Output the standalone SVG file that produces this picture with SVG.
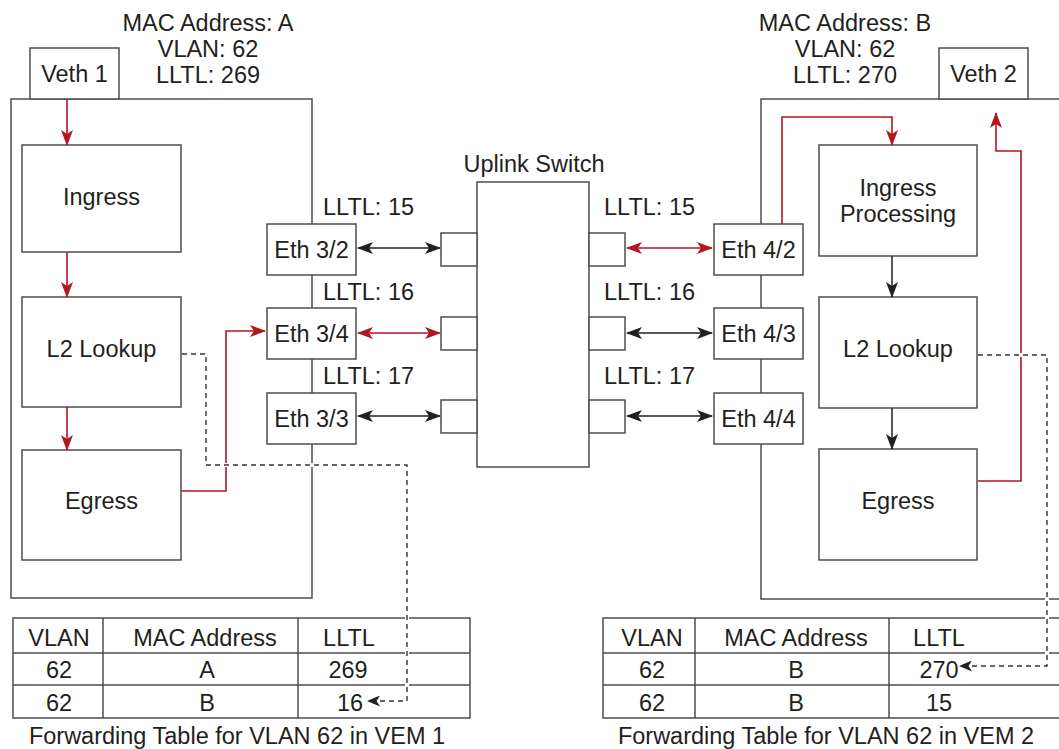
<svg xmlns="http://www.w3.org/2000/svg" width="1059" height="749" viewBox="0 0 1059 749">
<style>
.box{fill:#fff;stroke:#4d4d4d;stroke-width:1.5}
.ln{fill:none;stroke:#4d4d4d;stroke-width:1.5}
.t{font-family:"Liberation Sans",Arial,Helvetica,sans-serif;font-size:23.5px;fill:#231f20}
.m{text-anchor:middle}
.red{fill:none;stroke:#b3161d;stroke-width:1.6}
.blk{fill:none;stroke:#231f20;stroke-width:1.5}
.dash{fill:none;stroke:#333;stroke-width:1.4;stroke-dasharray:5 4}
.halo{fill:none;stroke:#fff;stroke-width:4}
</style>
<defs>
<marker id="ar" markerUnits="userSpaceOnUse" viewBox="0 0 16 12" markerWidth="16" markerHeight="12" refX="15" refY="6" orient="auto-start-reverse"><path d="M0,0 L16,6 L0,12 L4,6 z" fill="#b3161d"/></marker>
<marker id="ab" markerUnits="userSpaceOnUse" viewBox="0 0 16 12" markerWidth="16" markerHeight="12" refX="15" refY="6" orient="auto-start-reverse"><path d="M0,0 L16,6 L0,12 L4,6 z" fill="#231f20"/></marker>
<marker id="ad" markerUnits="userSpaceOnUse" viewBox="0 0 13 11" markerWidth="13" markerHeight="11" refX="12" refY="5.5" orient="auto"><path d="M0,0 L13,5.5 L0,11 L3.5,5.5 z" fill="#231f20"/></marker>
</defs>

<g id="vem1">
<rect class="box" x="11" y="99" width="301" height="499"/>
<text class="t m" x="208" y="31">MAC Address: A</text>
<text class="t m" x="208" y="57">VLAN: 62</text>
<text class="t m" x="208" y="83">LLTL: 269</text>
</g>
<g id="veth1"><rect class="box" x="30" y="48" width="89" height="51"/><text class="t m" x="74.5" y="82">Veth 1</text></g>
<g id="ingress1"><rect class="box" x="22" y="145" width="159" height="107"/><text class="t m" x="101.5" y="205">Ingress</text></g>
<g id="l2lookup1"><rect class="box" x="22" y="297" width="159" height="110"/><text class="t m" x="101.5" y="357">L2 Lookup</text></g>
<g id="egress1"><rect class="box" x="22" y="450" width="159" height="110"/><text class="t m" x="101.5" y="509">Egress</text></g>

<g id="vem2">
<rect class="box" x="761" y="99" width="330" height="500"/>
<text class="t m" x="845" y="31">MAC Address: B</text>
<text class="t m" x="845" y="57">VLAN: 62</text>
<text class="t m" x="845" y="83">LLTL: 270</text>
</g>
<g id="veth2"><rect class="box" x="939" y="48" width="89" height="51"/><text class="t m" x="983.5" y="82">Veth 2</text></g>
<g id="ingress2"><rect class="box" x="819" y="145" width="158" height="111"/><text class="t m" x="898" y="196">Ingress</text><text class="t m" x="898" y="222">Processing</text></g>
<g id="l2lookup2"><rect class="box" x="819" y="297" width="158" height="111"/><text class="t m" x="898" y="357">L2 Lookup</text></g>
<g id="egress2"><rect class="box" x="819" y="449" width="158" height="111"/><text class="t m" x="898" y="509">Egress</text></g>

<g id="uplink">
<text class="t m" x="534" y="172">Uplink Switch</text>
<rect class="box" x="477" y="182" width="112" height="285"/>
<rect class="box" x="441" y="233" width="36" height="33"/>
<rect class="box" x="441" y="317" width="36" height="33"/>
<rect class="box" x="441" y="400" width="36" height="33"/>
<rect class="box" x="589" y="233" width="36" height="33"/>
<rect class="box" x="589" y="317" width="36" height="33"/>
<rect class="box" x="589" y="400" width="36" height="33"/>
</g>

<g id="lltl-labels">
<text class="t" x="323" y="215">LLTL: 15</text>
<text class="t" x="323" y="300">LLTL: 16</text>
<text class="t" x="323" y="384">LLTL: 17</text>
<text class="t" x="604" y="215">LLTL: 15</text>
<text class="t" x="604" y="300">LLTL: 16</text>
<text class="t" x="604" y="384">LLTL: 17</text>
</g>

<g id="table1">
<rect class="box" x="13" y="618" width="457" height="100"/>
<path class="ln" d="M13,653 H470 M13,685 H470 M103,618 V718 M298,618 V718"/>
<text class="t m" x="59" y="646">VLAN</text>
<text class="t m" x="205" y="646">MAC Address</text>
<text class="t m" x="349" y="646">LLTL</text>
<text class="t m" x="59" y="678">62</text>
<text class="t m" x="207" y="678">A</text>
<text class="t m" x="348" y="678">269</text>
<text class="t m" x="59" y="711">62</text>
<text class="t m" x="207" y="711">B</text>
<text class="t m" x="350" y="711">16</text>
<text class="t m" x="237" y="744">Forwarding Table for VLAN 62 in VEM 1</text>
</g>
<g id="table2">
<rect class="box" x="603" y="618" width="480" height="100"/>
<path class="ln" d="M603,653 H1083 M603,685 H1083 M695,618 V718 M889,618 V718"/>
<text class="t m" x="652" y="646">VLAN</text>
<text class="t m" x="796" y="646">MAC Address</text>
<text class="t m" x="939" y="646">LLTL</text>
<text class="t m" x="652" y="678">62</text>
<text class="t m" x="796" y="678">B</text>
<text class="t m" x="939" y="678">270</text>
<text class="t m" x="652" y="711">62</text>
<text class="t m" x="796" y="711">B</text>
<text class="t m" x="939" y="711">15</text>
<text class="t m" x="826" y="744">Forwarding Table for VLAN 62 in VEM 2</text>
</g>

<g id="connectors">
<path class="red" d="M67,99 V145" marker-end="url(#ar)"/>
<path class="red" d="M67,252 V297" marker-end="url(#ar)"/>
<path class="red" d="M67,407 V450" marker-end="url(#ar)"/>
<path class="red" d="M181,491 H226 V331 H265" marker-end="url(#ar)"/>
<path class="blk" d="M358,248 H440" marker-start="url(#ab)" marker-end="url(#ab)"/>
<path class="red" d="M358,333 H440" marker-start="url(#ar)" marker-end="url(#ar)"/>
<path class="blk" d="M358,416 H440" marker-start="url(#ab)" marker-end="url(#ab)"/>
<path class="red" d="M627,248 H712" marker-start="url(#ar)" marker-end="url(#ar)"/>
<path class="blk" d="M627,333 H712" marker-start="url(#ab)" marker-end="url(#ab)"/>
<path class="blk" d="M627,416 H712" marker-start="url(#ab)" marker-end="url(#ab)"/>
<path class="red" d="M782,224 V117 H892 V145" marker-end="url(#ar)"/>
<path class="red" d="M978,481 H1021 V151 H996 V113" marker-end="url(#ar)"/>
<path class="blk" d="M892,256 V297" marker-end="url(#ab)"/>
<path class="blk" d="M892,408 V449" marker-end="url(#ab)"/>
<path class="halo" d="M183,354 H206 V465 H407 V701 H380"/>
<path class="dash" d="M182,354 H206 V465 H407 V701 H368" marker-end="url(#ad)"/>
<path class="halo" d="M980,355 H1047 V666 H972"/>
<path class="dash" d="M978,355 H1047 V666 H960" marker-end="url(#ad)"/>
</g>

<g id="eth-ports">
<g id="eth32"><rect class="box" x="267" y="224" width="89" height="51"/><text class="t m" x="311.5" y="258">Eth 3/2</text></g>
<g id="eth34"><rect class="box" x="267" y="308" width="89" height="51"/><text class="t m" x="311.5" y="342">Eth 3/4</text></g>
<g id="eth33"><rect class="box" x="267" y="393" width="89" height="51"/><text class="t m" x="311.5" y="427">Eth 3/3</text></g>
<g id="eth42"><rect class="box" x="714" y="224" width="89" height="51"/><text class="t m" x="758.5" y="258">Eth 4/2</text></g>
<g id="eth43"><rect class="box" x="714" y="308" width="89" height="51"/><text class="t m" x="758.5" y="342">Eth 4/3</text></g>
<g id="eth44"><rect class="box" x="714" y="393" width="89" height="51"/><text class="t m" x="758.5" y="427">Eth 4/4</text></g>
</g>
</svg>
